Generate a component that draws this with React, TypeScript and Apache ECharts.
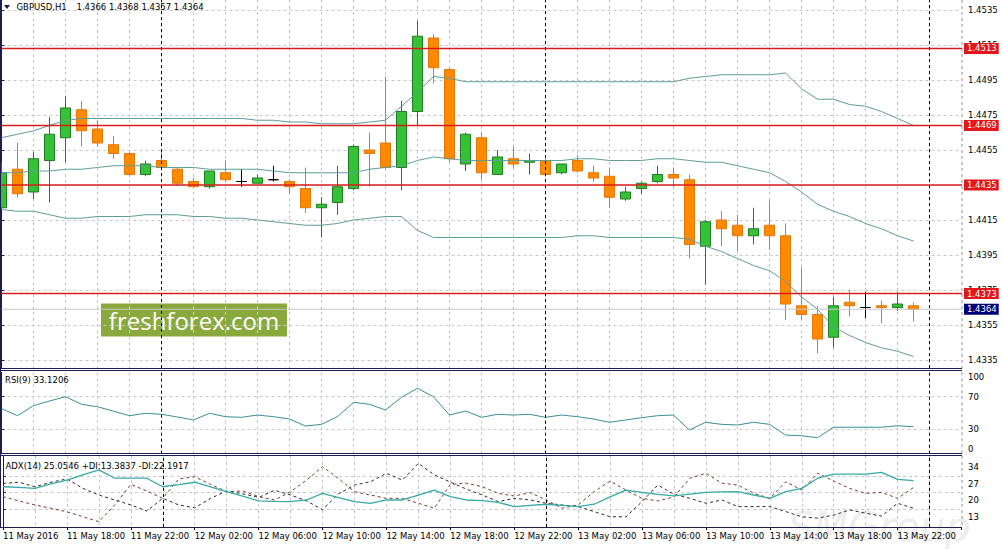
import React, { useEffect, useRef } from "react";
import * as echarts from "echarts";

// ---------- data (GBPUSD H1, bar 0 = 11 May 14:00) ----------
const opens = [
  1.4422, 1.4444, 1.4431, 1.4449, 1.4462, 1.4478, 1.4467, 1.4458, 1.4453, 1.4441,
  1.4449, 1.4444, 1.4437, 1.4434, 1.4442, 1.4437, 1.4436, 1.4438, 1.4437, 1.4433,
  1.4422, 1.4425, 1.4433, 1.4455, 1.4459, 1.4445, 1.4477, 1.4519, 1.4501, 1.4447,
  1.4462, 1.4441, 1.445, 1.4448, 1.4449, 1.4442, 1.4449, 1.4442, 1.444, 1.4427,
  1.4433, 1.4437, 1.4441, 1.4438, 1.44, 1.4415, 1.4412, 1.4406, 1.4412, 1.4406,
  1.4366, 1.4361, 1.4348, 1.4368, 1.4365, 1.4366, 1.4365, 1.4366,
];
const highs = [
  1.4448, 1.4459, 1.4454, 1.4474, 1.4486, 1.4483, 1.4472, 1.4463, 1.4454, 1.4449,
  1.4455, 1.4445, 1.4439, 1.4443, 1.4449, 1.4444, 1.4441, 1.4446, 1.4438, 1.4445,
  1.4428, 1.4446, 1.4458, 1.4465, 1.4497, 1.4483, 1.4529, 1.4521, 1.4502, 1.4465,
  1.4465, 1.4455, 1.4457, 1.4453, 1.4451, 1.4447, 1.4452, 1.4446, 1.4445, 1.4434,
  1.4437, 1.4446, 1.4445, 1.4441, 1.4415, 1.442, 1.4418, 1.4422, 1.4426, 1.4413,
  1.4388, 1.4366, 1.4371, 1.4375, 1.4374, 1.4369, 1.4374, 1.4368,
];
const lows = [
  1.4421, 1.4428, 1.4427, 1.4425, 1.4448, 1.4457, 1.4457, 1.445, 1.444, 1.444,
  1.4444, 1.4435, 1.4434, 1.4433, 1.4437, 1.4434, 1.4436, 1.4437, 1.443, 1.4419,
  1.4405, 1.4418, 1.4432, 1.4434, 1.4444, 1.4432, 1.4469, 1.4493, 1.4448, 1.4443,
  1.4438, 1.4441, 1.4445, 1.4441, 1.444, 1.4441, 1.4442, 1.4437, 1.4422, 1.4426,
  1.443, 1.4436, 1.4434, 1.4393, 1.4378, 1.44, 1.4397, 1.4401, 1.4398, 1.4358,
  1.4358, 1.4339, 1.4342, 1.436, 1.4359, 1.4356, 1.4363, 1.4357,
];
const closes = [
  1.4442, 1.443, 1.445, 1.4464, 1.4479, 1.4466, 1.4459, 1.4453, 1.4441, 1.4447,
  1.4445, 1.4436, 1.4434, 1.4443, 1.4438, 1.4437, 1.4439, 1.4438, 1.4434, 1.4422,
  1.4424, 1.4434, 1.4457, 1.4453, 1.4445, 1.4477, 1.452, 1.4502, 1.445, 1.4464,
  1.4442, 1.4451, 1.4447, 1.4449, 1.4441, 1.4447, 1.4443, 1.4439, 1.4428, 1.4431,
  1.4436, 1.4441, 1.4439, 1.4401, 1.4414, 1.441, 1.4406, 1.441, 1.4406, 1.4367,
  1.4361, 1.4347, 1.4366, 1.4366, 1.4365, 1.4365, 1.4367, 1.4364,
];

const bbUpper = [
  1.4462, 1.4464, 1.4466, 1.4469, 1.4472, 1.4473, 1.4473, 1.4473, 1.4473, 1.4473,
  1.4473, 1.4473, 1.4473, 1.4473, 1.4473, 1.4473, 1.4472, 1.4472, 1.4471, 1.4471,
  1.447, 1.447, 1.447, 1.4471, 1.4472, 1.448, 1.4488, 1.4497, 1.4496, 1.4494,
  1.4494, 1.4494, 1.4494, 1.4494, 1.4494, 1.4494, 1.4494, 1.4494, 1.4494, 1.4494,
  1.4494, 1.4494, 1.4494, 1.4496, 1.4497, 1.4498, 1.4498, 1.4498, 1.4498, 1.4499,
  1.449, 1.4484, 1.4484, 1.4481, 1.448, 1.4477, 1.4473, 1.4469,
];
const bbMiddle = [
  1.4442, 1.4442, 1.4443, 1.4443, 1.4444, 1.4444, 1.4445, 1.4446, 1.4446, 1.4446,
  1.4445, 1.4445, 1.4445, 1.4444, 1.4444, 1.4444, 1.4444, 1.4443, 1.4442, 1.4442,
  1.4442, 1.4442, 1.4442, 1.4444, 1.4445, 1.4446, 1.4449, 1.4451, 1.445, 1.4449,
  1.4449, 1.4449, 1.4449, 1.4449, 1.4449, 1.4449, 1.445, 1.445, 1.4449, 1.4449,
  1.4449, 1.445, 1.445, 1.4449, 1.4448, 1.4448, 1.4446, 1.4444, 1.4442, 1.4437,
  1.4431, 1.4424, 1.442, 1.4417, 1.4413, 1.441, 1.4406, 1.4403,
];
const bbLower = [
  1.4421, 1.442, 1.442, 1.4418, 1.4416, 1.4416, 1.4417, 1.4417, 1.4417, 1.4418,
  1.4418, 1.4418, 1.4417, 1.4417, 1.4416, 1.4416, 1.4415, 1.4414, 1.4413, 1.4412,
  1.4412, 1.4413, 1.4415, 1.4416, 1.4417, 1.4417, 1.4409, 1.4405, 1.4405, 1.4405,
  1.4405, 1.4405, 1.4405, 1.4405, 1.4405, 1.4405, 1.4406, 1.4406, 1.4405, 1.4405,
  1.4405, 1.4405, 1.4405, 1.4404, 1.44, 1.4397, 1.4393, 1.4389, 1.4386, 1.438,
  1.4371, 1.4364, 1.4354, 1.4349, 1.4345, 1.4342, 1.434, 1.4337,
];

const rsi = [
  55.5, 46.7, 59, 64.7, 70, 60.7, 57.7, 52.2, 46.7, 49.6,
  48.4, 45.1, 41.4, 49.6, 45.5, 44.7, 47.5, 45.5, 42.6, 34,
  36.1, 45.5, 63.1, 60.7, 53.7, 69.3, 80.3, 70, 47.5, 52.5,
  44.7, 48.4, 47.5, 48.4, 44.7, 47.5, 45.5, 42.6, 38.6, 41.4,
  44.2, 46.7, 47.5, 29.1, 38.6, 36.1, 35.3, 38.6, 36.1, 23,
  22.1, 19.7, 32.5, 32.5, 32.5, 32.5, 34.4, 33.1,
];
const adx = [
  22.5, 22.2, 21.8, 23.7, 25.3, 27.5, 29.6, 26.1, 26.1, 26.1,
  22.5, 23.4, 24.4, 22.4, 20.4, 18.5, 16.5, 16.3, 16.2, 16.9,
  19.7, 17.9, 16.2, 15.5, 16.9, 16.9, 19, 21.1, 18.3, 16.9,
  16.6, 15.9, 14.1, 14.6, 15.1, 14.6, 14.1, 15.1, 18.2, 21.1,
  20.1, 19.3, 18.6, 19.4, 20.1, 20.3, 20.4, 19, 17.6, 20.4,
  21.8, 26.1, 27.8, 27.8, 27.8, 28.6, 25.6, 25.05,
];
const plusDI = [
  23.9, 24.4, 22.5, 24.4, 25.8, 21.8, 19, 16.9, 14.8, 12.2,
  17.6, 14.8, 13.6, 17.6, 20.7, 19.5, 18, 21, 19, 16.5,
  12.8, 19.5, 23.2, 24.6, 28.2, 25.3, 32.4, 27.5, 24.5, 21.5,
  19, 16.2, 17.6, 16.9, 15.5, 14.8, 14.1, 12, 9.8, 9.8,
  16.2, 23.2, 19.3, 17.6, 15.5, 16.9, 14.1, 14.1, 14.1, 12,
  9.8, 9.2, 10.5, 12.7, 11.3, 10.1, 15.5, 13.38,
];
const minusDI = [
  18.3, 16.5, 14.8, 13.4, 11.9, 9.8, 7.7, 14.8, 23.5, 20.7,
  17.6, 25.8, 26.7, 23.5, 20.4, 20.7, 18.3, 16.9, 20.4, 25.3,
  31, 26, 20.4, 19, 17.6, 17.6, 15.5, 13.4, 23.5, 24,
  22.5, 19.7, 18.6, 20, 16.9, 13.4, 14.8, 20.4, 24.9, 21.1,
  17.6, 16.5, 18.2, 26.1, 28.2, 24, 23.2, 19.7, 17.6, 24.6,
  21.1, 28.2, 24.9, 21.8, 19.7, 20.1, 17.6, 22.19,
];

const levels = [1.4513, 1.4469, 1.4435, 1.4373];
const bidPrice = 1.4364;
const daySeparators = [10, 34, 58];
const priceTicks = [1.4335, 1.4355, 1.4375, 1.4395, 1.4415, 1.4435, 1.4455, 1.4475, 1.4495, 1.4515, 1.4535];
const rsiLabels = [0, 30, 70, 100];
const rsiLevels = [30, 70];
const adxLabels = [13, 20, 27, 34];
const adxLevels = [13, 20, 27];
const xLabels = [
  "11 May 2016", "11 May 18:00", "11 May 22:00", "12 May 02:00", "12 May 06:00",
  "12 May 10:00", "12 May 14:00", "12 May 18:00", "12 May 22:00", "13 May 02:00",
  "13 May 06:00", "13 May 10:00", "13 May 14:00", "13 May 18:00", "13 May 22:00",
];

// ---------- styling ----------
const FONT = '"DejaVu Sans", Tahoma, sans-serif';
const FS = 8.5;
const GRID_C = "#c9c9c9";
const FRAME = "#1c1c4e";
const LEVEL_C = "#d81c1c";
const XMAX = 60.03125;
const LEFT = 1.5;
const RIGHT = 41;

const xy = (arr: number[]) => arr.map((v, i) => [i, v]);

function gridX(gridIndex: number, position: "top" | "bottom" = "bottom") {
  return {
    type: "value",
    gridIndex,
    position,
    min: 0,
    max: XMAX,
    interval: 2,
    axisLine: { show: false },
    axisTick: { show: false },
    axisLabel: { show: false },
    splitLine: { show: true, lineStyle: { color: GRID_C, type: [3, 3], width: 1 } },
  };
}

const sepMarkLine = () => ({
  symbol: ["none", "none"],
  silent: true,
  label: { show: false },
  lineStyle: { color: "#000", type: [3, 3], width: 1 },
  data: daySeparators.map((k) => ({ xAxis: k })),
});

// a horizontal price line as its own series, spanning the x axis extent, with its value tag at the right
function priceLineSeries(value: number, lineColor: string, boxColor: string, z: number, width: number) {
  return {
    type: "line",
    name: value.toFixed(4),
    xAxisIndex: 0,
    yAxisIndex: 0,
    data: [[0, value], [XMAX, value]],
    showSymbol: false,
    symbol: "none",
    silent: true,
    clip: false,
    z,
    lineStyle: { color: lineColor, width, type: "solid" },
    itemStyle: { color: lineColor },
    endLabel: {
      show: true,
      distance: 2,
      formatter: () => value.toFixed(4),
      color: "#ffffff",
      fontSize: FS,
      fontFamily: FONT,
      padding: [1, 2, 1, 3],
      backgroundColor: boxColor,
    },
  };
}

function frameLine(x1: number, y1: number, x2: number, y2: number) {
  return {
    type: "line",
    z: 20,
    silent: true,
    shape: { x1, y1, x2, y2 },
    style: { stroke: FRAME, lineWidth: 1 },
  };
}

function buildOption() {
  const candleData = opens.map((o, i) => [i, o, closes[i], lows[i], highs[i]]);
  const labelBase = { fontSize: FS, fontFamily: FONT, color: "#000" };
  return {
    animation: false,
    backgroundColor: "#ffffff",
    grid: [
      { left: LEFT, right: RIGHT, top: 0, height: 368 },
      { left: LEFT, right: RIGHT, top: 372.25, height: 81.5 },
      { left: LEFT, right: RIGHT, top: 456, height: 71 },
    ],
    xAxis: [
      gridX(0),
      gridX(1),
      gridX(2, "top"),
      {
        type: "value",
        gridIndex: 2,
        position: "bottom",
        min: 0,
        max: XMAX,
        interval: 4,
        axisLine: { show: false },
        axisTick: { show: true, length: 3, lineStyle: { color: "#000" } },
        splitLine: { show: false },
        axisLabel: {
          ...labelBase,
          show: true,
          align: "left",
          margin: 4,
          showMaxLabel: false,
          formatter: (v: number) => {
            const q = v / 4;
            return Number.isInteger(q) && xLabels[q] ? xLabels[q] : "";
          },
        },
      },
    ],
    yAxis: [
      {
        type: "value",
        gridIndex: 0,
        position: "right",
        min: 1.433043,
        max: 1.454071,
        axisLine: { show: true, lineStyle: { color: FRAME } },
        axisTick: { show: true, length: 3, customValues: priceTicks, lineStyle: { color: FRAME } },
        axisLabel: { ...labelBase, margin: 6, customValues: priceTicks, formatter: (v: number) => v.toFixed(4) },
        splitLine: { show: true, lineStyle: { color: GRID_C, type: [3, 3], width: 1 } },
      },
      {
        type: "value",
        gridIndex: 1,
        position: "right",
        min: 0,
        max: 100,
        axisLine: { show: true, lineStyle: { color: FRAME } },
        axisTick: { show: true, length: 3, customValues: rsiLevels, lineStyle: { color: FRAME } },
        axisLabel: {
          ...labelBase,
          margin: 6,
          customValues: rsiLabels,
          verticalAlignMinLabel: "bottom",
          verticalAlignMaxLabel: "top",
        },
        splitLine: { show: true, lineStyle: { color: GRID_C, type: [3, 3], width: 1 } },
      },
      {
        type: "value",
        gridIndex: 2,
        position: "right",
        min: 5.47,
        max: 35.5,
        axisLine: { show: true, lineStyle: { color: FRAME } },
        axisTick: { show: true, length: 3, customValues: adxLevels, lineStyle: { color: FRAME } },
        axisLabel: {
          ...labelBase,
          margin: 6,
          customValues: adxLabels,
          verticalAlign: "top",
          padding: [3, 0, 0, 0],
        },
        splitLine: { show: true, lineStyle: { color: GRID_C, type: [3, 3], width: 1 } },
      },
    ],
    series: [
      {
        type: "candlestick",
        name: "GBPUSD",
        xAxisIndex: 0,
        yAxisIndex: 0,
        data: candleData,
        encode: { x: 0, y: [1, 2, 3, 4] },
        barWidth: 10,
        z: 2,
        itemStyle: {
          color: "#36c236",
          color0: "#ff8a00",
          borderColor: "#1f7d1f",
          borderColor0: "#e3780a",
          borderColorDoji: "#000000",
          borderWidth: 1,
        },
      },
      priceLineSeries(bidPrice, "#c6c6c6", "#000078", 4, 1),
      ...levels.map((v) => priceLineSeries(v, LEVEL_C, "#e3171b", 5, 1.5)),
      {
        type: "line",
        name: "BB upper",
        xAxisIndex: 0,
        yAxisIndex: 0,
        data: xy(bbUpper),
        showSymbol: false,
        symbol: "none",
        z: 3,
        lineStyle: { color: "#5e9d9b", width: 1 },
      },
      {
        type: "line",
        name: "BB middle",
        xAxisIndex: 0,
        yAxisIndex: 0,
        data: xy(bbMiddle),
        showSymbol: false,
        symbol: "none",
        z: 3,
        lineStyle: { color: "#5e9d9b", width: 1 },
        markLine: sepMarkLine(),
      },
      {
        type: "line",
        name: "BB lower",
        xAxisIndex: 0,
        yAxisIndex: 0,
        data: xy(bbLower),
        showSymbol: false,
        symbol: "none",
        z: 3,
        lineStyle: { color: "#5e9d9b", width: 1 },
      },
      {
        type: "line",
        name: "RSI(9)",
        xAxisIndex: 1,
        yAxisIndex: 1,
        data: xy(rsi),
        showSymbol: false,
        symbol: "none",
        lineStyle: { color: "#3b8e98", width: 1 },
        markLine: sepMarkLine(),
      },
      {
        type: "line",
        name: "+DI",
        xAxisIndex: 2,
        yAxisIndex: 2,
        data: xy(plusDI),
        showSymbol: false,
        symbol: "none",
        lineStyle: { color: "#2b2b2b", width: 1, type: [3, 3] },
      },
      {
        type: "line",
        name: "-DI",
        xAxisIndex: 2,
        yAxisIndex: 2,
        data: xy(minusDI),
        showSymbol: false,
        symbol: "none",
        lineStyle: { color: "#7e3a2e", width: 1, type: [3, 3] },
      },
      {
        type: "line",
        name: "ADX(14)",
        xAxisIndex: 2,
        yAxisIndex: 2,
        data: xy(adx),
        showSymbol: false,
        symbol: "none",
        lineStyle: { color: "#36a9a9", width: 1.3 },
        markLine: sepMarkLine(),
      },
    ],
    graphic: [
      // faint watermark
      {
        type: "text",
        z: 0,
        silent: true,
        style: {
          text: "SMGroup",
          x: 788,
          y: 527,
          fill: "#ededed",
          fontSize: 40,
          fontStyle: "italic",
          fontFamily: FONT,
          verticalAlign: "middle",
        },
      },
      // panel frames
      frameLine(0, 368.5, 962, 368.5),
      frameLine(0, 370.5, 962, 370.5),
      frameLine(0, 453.5, 962, 453.5),
      frameLine(0, 455.5, 962, 455.5),
      frameLine(0, 527.5, 962, 527.5),
      frameLine(0.5, 0, 0.5, 527.5),
      // header
      { type: "polygon", z: 20, silent: true, shape: { points: [[4, 5], [10, 5], [7, 9]] }, style: { fill: FRAME } },
      {
        type: "text",
        z: 20,
        silent: true,
        style: { text: "GBPUSD,H1", x: 16.5, y: 7, fill: "#000", fontSize: FS, fontFamily: FONT, verticalAlign: "middle" },
      },
      {
        type: "text",
        z: 20,
        silent: true,
        style: { text: "1.4366 1.4368 1.4357 1.4364", x: 76.5, y: 7, fill: "#000", fontSize: FS, fontFamily: FONT, verticalAlign: "middle" },
      },
      {
        type: "text",
        z: 20,
        silent: true,
        style: { text: "RSI(9) 33.1206", x: 5, y: 380, fill: "#000", fontSize: FS, fontFamily: FONT, verticalAlign: "middle" },
      },
      {
        type: "text",
        z: 20,
        silent: true,
        style: {
          text: "ADX(14) 25.0546 +DI:13.3837 -DI:22.1917",
          x: 5.5,
          y: 466,
          fill: "#000",
          fontSize: FS,
          fontFamily: FONT,
          verticalAlign: "middle",
        },
      },
      // freshforex badge
      {
        type: "group",
        z: 30,
        silent: true,
        children: [
          { type: "rect", shape: { x: 101, y: 303.5, width: 186, height: 33 }, style: { fill: "#89a93d" } },
          {
            type: "text",
            style: {
              text: "freshforex.com",
              x: 194,
              y: 320,
              fill: "#ffffff",
              fontSize: 24,
              fontFamily: '"Open Sans", sans-serif',
              align: "center",
              verticalAlign: "middle",
            },
          },
        ],
      },
    ],
  };
}

export default function App() {
  const ref = useRef<HTMLDivElement>(null);
  useEffect(() => {
    document.body.style.margin = "0";
    document.body.style.overflow = "hidden";
    const chart = echarts.init(ref.current as HTMLDivElement, undefined, { renderer: "svg" });
    chart.setOption(buildOption() as any);
    return () => chart.dispose();
  }, []);
  return <div ref={ref} style={{ width: 1003, height: 549, background: "#ffffff" }} />;
}
